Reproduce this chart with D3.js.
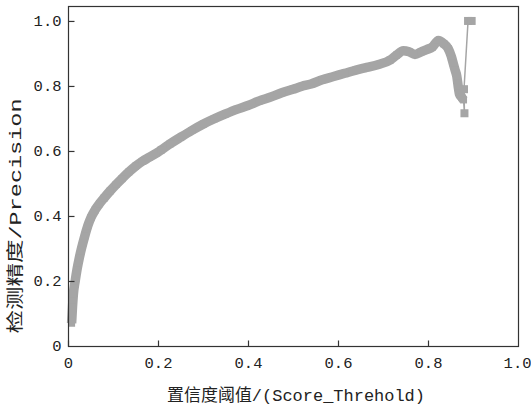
<!DOCTYPE html>
<html>
<head>
<meta charset="utf-8">
<script src="https://cdn.jsdelivr.net/npm/d3@7"></script>
<style>
  body { margin: 0; background: #fff; }
  text { fill: #222; }
</style>
</head>
<body>
<svg id="chart" width="531" height="409"></svg>
<script>
// score threshold (x) and precision (y)
var scoreThreshold = [
  0.008, 0.010, 0.012, 0.016, 0.020, 0.025, 0.030, 0.037, 0.044, 0.051,
  0.060, 0.070, 0.080, 0.093, 0.107, 0.120, 0.135, 0.150, 0.165, 0.180,
  0.195, 0.207, 0.227, 0.250, 0.275, 0.301, 0.325, 0.350, 0.375, 0.400,
  0.425, 0.449, 0.475, 0.500, 0.520, 0.540, 0.565, 0.590, 0.615, 0.640,
  0.664, 0.690, 0.716, 0.730, 0.745, 0.758, 0.771, 0.785, 0.797, 0.810,
  0.823, 0.835, 0.845, 0.852, 0.856, 0.860, 0.864, 0.867, 0.870, 0.875,
  0.879, 0.881, 0.880, 0.889, 0.897
];
var precision = [
  0.070, 0.120, 0.160, 0.200, 0.235, 0.270, 0.300, 0.337, 0.370, 0.395,
  0.418, 0.438, 0.455, 0.476, 0.497, 0.515, 0.535, 0.553, 0.568, 0.580,
  0.592, 0.603, 0.622, 0.642, 0.663, 0.683, 0.699, 0.714, 0.728, 0.740,
  0.754, 0.765, 0.779, 0.790, 0.799, 0.806, 0.819, 0.829, 0.839, 0.849,
  0.857, 0.866, 0.880, 0.895, 0.908, 0.905, 0.897, 0.905, 0.912, 0.920,
  0.940, 0.930, 0.915, 0.890, 0.870, 0.850, 0.830, 0.800, 0.775, 0.765,
  0.757, 0.716, 0.790, 1.000, 1.000
];
var xTicks = [0, 0.2, 0.4, 0.6, 0.8, 1.0];
var yTicks = [0, 0.2, 0.4, 0.6, 0.8, 1.0];
var xTitle = '置信度阈值/(Score_Threhold)';
var yTitle = '检测精度/Precision';
var bandEnd = 61; // points after this are the sparse tail

var svg = d3.select('#chart');
var plotL = 68, plotR = 518, plotT = 6, plotB = 346;
var grey = '#a5a5a5';
var font = '"Liberation Mono", "Noto Sans CJK SC", monospace';

var x = d3.scaleLinear().domain([0, 1]).range([plotL, plotR]);
var y = d3.scaleLinear().domain([0, 1.046]).range([plotB, plotT]);

var pts = scoreThreshold.map(function(d, i) { return [d, precision[i]]; });
var line = d3.line()
  .x(function(d) { return x(d[0]); })
  .y(function(d) { return y(d[1]); });

// thin connecting line through every point
svg.append('path')
  .attr('d', line(pts))
  .attr('fill', 'none')
  .attr('stroke', grey)
  .attr('stroke-width', 1.5);

// dense marker band
svg.append('path')
  .attr('d', line.curve(d3.curveMonotoneX)(pts.slice(0, bandEnd)))
  .attr('fill', 'none')
  .attr('stroke', grey)
  .attr('stroke-width', 9.5)
  .attr('stroke-linejoin', 'round');
line.curve(d3.curveLinear);

svg.append('g')
  .selectAll('rect')
  .data(pts)
  .enter()
  .append('rect')
  .attr('x', function(d, i) { return x(d[0]) - (i < bandEnd ? 3.5 : 4); })
  .attr('y', function(d, i) { return y(d[1]) - (i < bandEnd ? 3.5 : 4); })
  .attr('width', function(d, i) { return i < bandEnd ? 7 : 8; })
  .attr('height', function(d, i) { return i < bandEnd ? 7 : 8; })
  .attr('fill', grey);

// frame
svg.append('rect')
  .attr('x', plotL + 0.5)
  .attr('y', plotT + 0.5)
  .attr('width', plotR - plotL)
  .attr('height', plotB - plotT)
  .attr('fill', 'none')
  .attr('stroke', '#333')
  .attr('stroke-width', 1.2);

var fmt = function(d) { return d === 0 ? '0' : d3.format('.1f')(d); };

var xAxis = svg.append('g')
  .attr('transform', 'translate(0,' + (plotB + 0.5) + ')')
  .call(d3.axisBottom(x).tickValues(xTicks).tickFormat(fmt).tickSizeInner(-6).tickSizeOuter(0).tickPadding(10));
var yAxis = svg.append('g')
  .attr('transform', 'translate(' + (plotL + 0.5) + ',0)')
  .call(d3.axisLeft(y).tickValues(yTicks).tickFormat(fmt).tickSizeInner(-6).tickSizeOuter(0).tickPadding(7));

[xAxis, yAxis].forEach(function(g) {
  g.select('.domain').remove();
  g.selectAll('line').attr('stroke', '#333').attr('stroke-width', 1.2);
  g.selectAll('text')
    .attr('fill', '#222')
    .style('font-family', font)
    .style('font-size', '15.5px');
});
// the end ticks sit on the frame
xAxis.selectAll('.tick').filter(function(d) { return d === 1; }).select('line').remove();
yAxis.selectAll('.tick').filter(function(d) { return d === 0; }).select('line').remove();
// keep the last x label inside the window
xAxis.selectAll('.tick').filter(function(d) { return d === 1; }).select('text')
  .attr('text-anchor', 'end')
  .attr('x', 13);

svg.append('text')
  .attr('x', 296)
  .attr('y', 401)
  .attr('text-anchor', 'middle')
  .attr('textLength', 258)
  .attr('lengthAdjust', 'spacingAndGlyphs')
  .style('font-family', font)
  .style('font-size', '17px')
  .text(xTitle);

svg.append('text')
  .attr('transform', 'translate(21,216) rotate(-90)')
  .attr('text-anchor', 'middle')
  .attr('textLength', 235)
  .attr('lengthAdjust', 'spacingAndGlyphs')
  .style('font-family', font)
  .style('font-size', '17px')
  .text(yTitle);
</script>
</body>
</html>
